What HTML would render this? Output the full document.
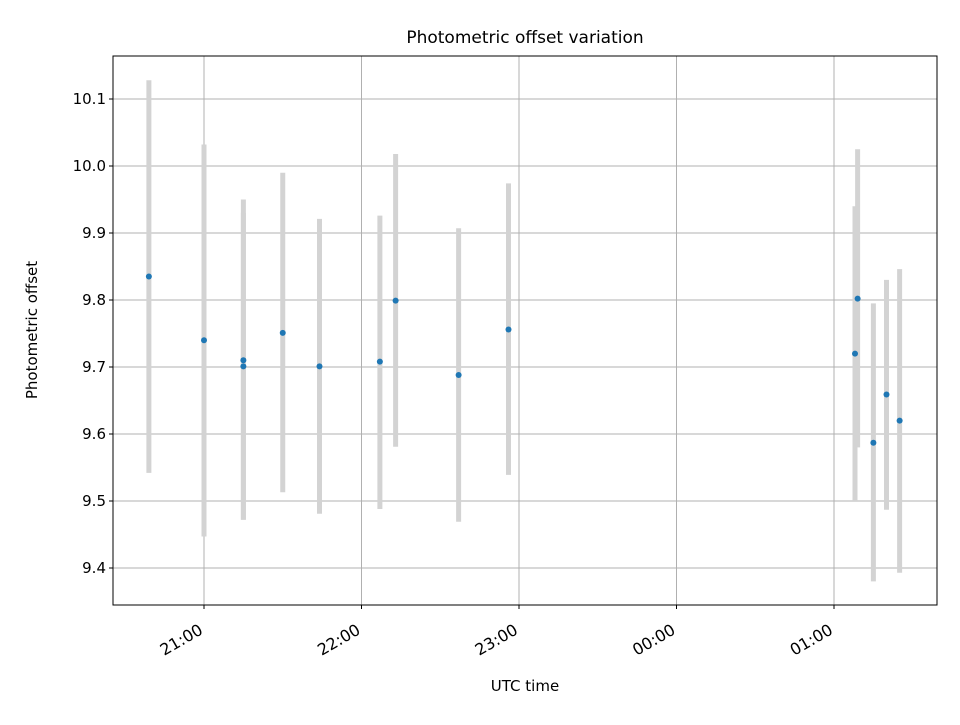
<!DOCTYPE html>
<html><head><meta charset="utf-8"><style>
body{margin:0;background:#fff}
svg text{font-family:"DejaVu Sans","Liberation Sans",sans-serif;fill:#000}
</style></head><body>
<svg id="chart" width="960" height="720"></svg>
<script>
const times = ["20:39","21:00","21:15","21:15","21:30","21:44","22:07","22:13","22:37","22:56","01:08","01:09","01:15","01:20","01:25"];
const values = [9.835,9.740,9.710,9.701,9.751,9.701,9.708,9.799,9.688,9.756,9.720,9.802,9.587,9.659,9.620];
const errLow = [9.542,9.447,9.472,9.472,9.513,9.481,9.488,9.581,9.469,9.539,9.500,9.580,9.380,9.487,9.393];
const errHigh = [10.128,10.032,9.950,9.930,9.990,9.921,9.926,10.018,9.907,9.974,9.940,10.025,9.795,9.830,9.846];
const yTicks = [9.4,9.5,9.6,9.7,9.8,9.9,10.0,10.1];
const xTickLabels = ["21:00","22:00","23:00","00:00","01:00"];

const NS="http://www.w3.org/2000/svg";
const svg=document.getElementById('chart');
const L=113,R=937,T=56,B=605;
function mins(t){let [h,m]=t.split(':').map(Number); if(h<12)h+=24; return (h-21)*60+m;}
function xs(t){return 204+mins(t)*157.5/60;}
function ys(v){return 568-(v-9.4)*670;}
function el(tag,attrs,parent){const e=document.createElementNS(NS,tag);for(const k in attrs)e.setAttribute(k,attrs[k]);(parent||svg).appendChild(e);return e;}

const grid=el('g',{});


yTicks.forEach(v=>{const y=ys(v);
  el('line',{x1:L,x2:R,y1:y,y2:y,stroke:'#b0b0b0','stroke-width':1},grid);
  el('line',{x1:L-4,x2:L,y1:y,y2:y,stroke:'#000'},grid);
  const t=el('text',{x:L-7,y:y+5,'text-anchor':'end','font-size':15},grid);t.textContent=v.toFixed(1);
  
  
});
xTickLabels.forEach(s=>{const x=xs(s);
  el('line',{x1:x,x2:x,y1:T,y2:B,stroke:'#b0b0b0','stroke-width':1},grid);
  el('line',{x1:x,x2:x,y1:B,y2:B+4,stroke:'#000'},grid);
  const ax=x, ay=B+28;
  const t=el('text',{x:ax,y:ay,'text-anchor':'end','font-size':16,transform:`rotate(-30 ${ax} ${ay})`},grid);t.textContent=s;
  
  
});
const marks=el('g',{});


times.forEach((t,i)=>{const x=xs(t);
  const b=el('line',{x1:x,x2:x,y1:ys(errHigh[i]),y2:ys(errLow[i]),stroke:'#d3d3d3','stroke-width':5},marks);
  
  
});
times.forEach((t,i)=>{
  const c=el('circle',{cx:xs(t),cy:ys(values[i]),r:3,fill:'#1f77b4'},marks);
  
  
});
const fr=el('rect',{x:L,y:T,width:R-L,height:B-T,fill:'none',stroke:'#000','stroke-width':1});


let t=el('text',{x:525,y:43,'text-anchor':'middle','font-size':17});t.textContent='Photometric offset variation';

t=el('text',{x:525,y:691,'text-anchor':'middle','font-size':15});t.textContent='UTC time';

t=el('text',{x:37,y:330,'text-anchor':'middle','font-size':15,transform:'rotate(-90 37 330)'});t.textContent='Photometric offset';

</script>
</body></html>
